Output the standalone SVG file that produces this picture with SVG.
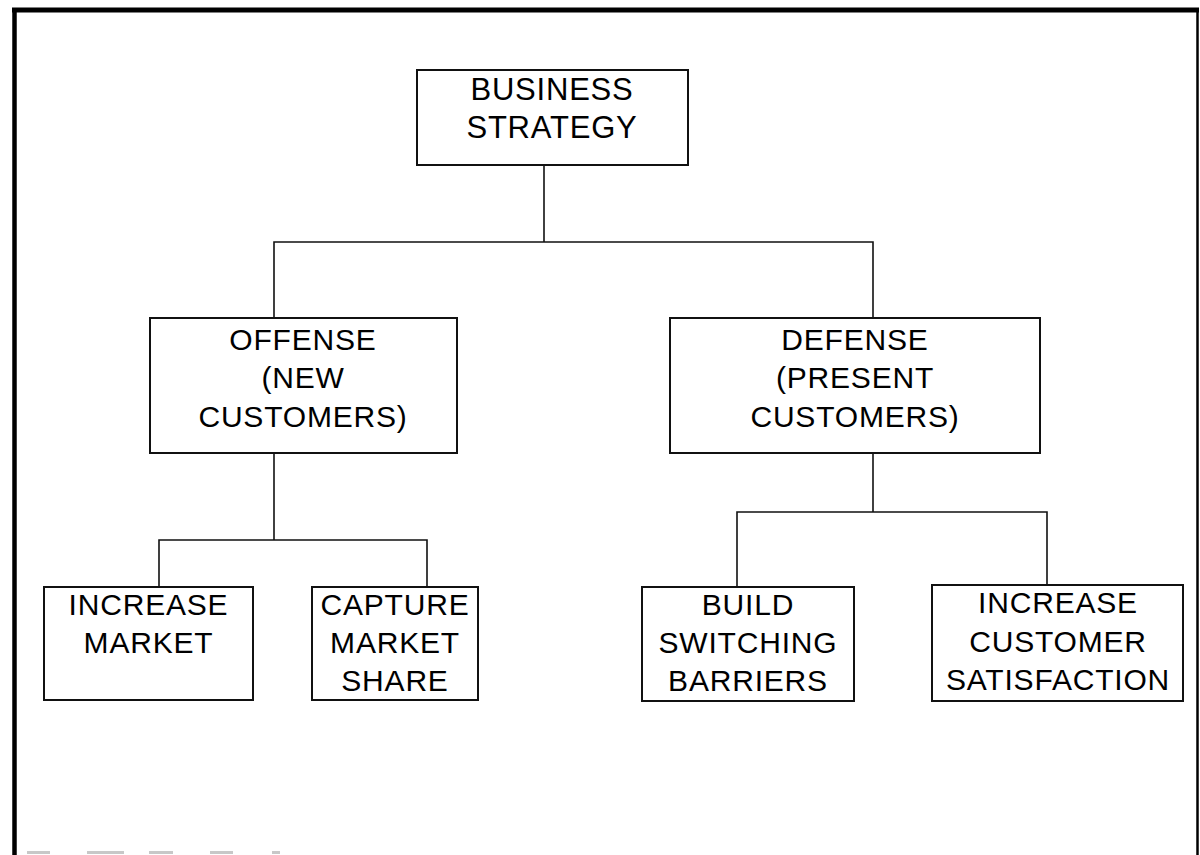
<svg xmlns="http://www.w3.org/2000/svg" width="1200" height="855" viewBox="0 0 1200 855">
  <style>
    .box { fill: #fff; stroke: #111; stroke-width: 2; }
    .wire { fill: none; stroke: #111; stroke-width: 1.6; }
    .lbl { font-family: "Liberation Sans", Arial, sans-serif; font-size: 30px; letter-spacing: 0.8px; fill: #000; text-anchor: middle; }
    .root { font-size: 31px; }
    .frame { stroke: #000; fill: none; }
  </style>
  <rect width="1200" height="855" fill="#fff"/>

  <!-- page frame -->
  <g id="frame">
    <line class="frame" x1="12" y1="10" x2="1199" y2="10" stroke-width="5"/>
    <line class="frame" x1="14.5" y1="8" x2="14.5" y2="855" stroke-width="4.5"/>
    <line class="frame" x1="1197.5" y1="8" x2="1197.5" y2="855" stroke-width="2.5"/>
    <g fill="#c8c8c8">
      <rect x="27" y="851" width="23" height="3"/>
      <rect x="87" y="851" width="37" height="3"/>
      <rect x="149" y="851" width="24" height="3"/>
      <rect x="210" y="851" width="23" height="3"/>
      <rect x="272" y="851" width="8" height="3"/>
    </g>
  </g>

  <!-- connectors -->
  <g id="connectors">
    <polyline class="wire" points="544,165 544,242"/>
    <polyline class="wire" points="274,318 274,242 873,242 873,318"/>
    <polyline class="wire" points="274,453 274,540"/>
    <polyline class="wire" points="159,587 159,540 427,540 427,587"/>
    <polyline class="wire" points="873,453 873,512"/>
    <polyline class="wire" points="737,587 737,512 1047,512 1047,585"/>
  </g>

  <g id="business-strategy">
    <rect class="box" x="417" y="70" width="271" height="95"/>
    <text class="lbl root" x="552" y="100">BUSINESS</text>
    <text class="lbl root" x="552" y="138">STRATEGY</text>
  </g>

  <g id="offense">
    <rect class="box" x="150" y="318" width="307" height="135"/>
    <text class="lbl" x="303" y="350">OFFENSE</text>
    <text class="lbl" x="303" y="388">(NEW</text>
    <text class="lbl" x="303" y="427">CUSTOMERS)</text>
  </g>

  <g id="defense">
    <rect class="box" x="670" y="318" width="370" height="135"/>
    <text class="lbl" x="855" y="350">DEFENSE</text>
    <text class="lbl" x="855" y="388">(PRESENT</text>
    <text class="lbl" x="855" y="427">CUSTOMERS)</text>
  </g>

  <g id="increase-market">
    <rect class="box" x="44" y="587" width="209" height="113"/>
    <text class="lbl" x="148.5" y="615">INCREASE</text>
    <text class="lbl" x="148.5" y="653">MARKET</text>
  </g>

  <g id="capture-market-share">
    <rect class="box" x="312" y="587" width="166" height="113"/>
    <text class="lbl" x="395" y="615">CAPTURE</text>
    <text class="lbl" x="395" y="653">MARKET</text>
    <text class="lbl" x="395" y="691">SHARE</text>
  </g>

  <g id="build-switching-barriers">
    <rect class="box" x="642" y="587" width="212" height="114"/>
    <text class="lbl" x="748" y="615">BUILD</text>
    <text class="lbl" x="748" y="653">SWITCHING</text>
    <text class="lbl" x="748" y="691">BARRIERS</text>
  </g>

  <g id="increase-customer-satisfaction">
    <rect class="box" x="932" y="585" width="251" height="116"/>
    <text class="lbl" x="1058" y="613">INCREASE</text>
    <text class="lbl" x="1058" y="652">CUSTOMER</text>
    <text class="lbl" x="1058" y="690">SATISFACTION</text>
  </g>
</svg>
